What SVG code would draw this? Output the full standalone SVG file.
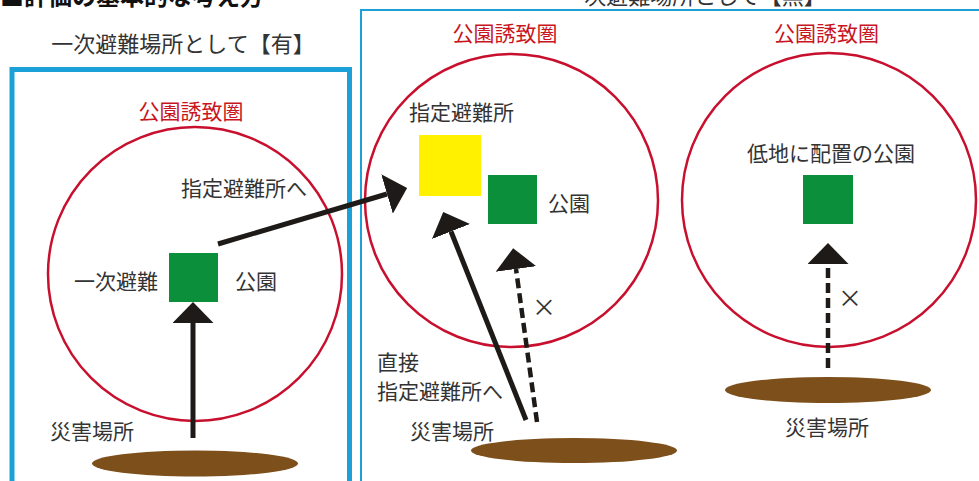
<svg xmlns="http://www.w3.org/2000/svg" width="979" height="481" viewBox="0 0 979 481">
<style>
text{font-family:"Noto Sans CJK JP","Noto Sans",sans-serif;}
.lbl{font-size:21px;fill:#333;}
.cross{font-size:24px;fill:#333;}
.red{font-size:21px;fill:#c9151e;}
.title{font-size:22px;fill:#333;}
.zone{fill:none;stroke:#c8102e;stroke-width:2.5;}
.park{fill:#0b8f3a;}
.shelter{fill:#fff100;}
.ground{fill:#7d4f1a;}
.solid{stroke:#1e1a17;stroke-width:5;fill:none;}
.dash{stroke:#1e1a17;stroke-width:4.5;fill:none;stroke-dasharray:10 5;}
</style>
<defs>
<marker id="head" viewBox="0 0 21 41" refX="0" refY="20.5" markerWidth="21" markerHeight="41" markerUnits="userSpaceOnUse" orient="auto">
<path d="M0,0 L21,20.5 L0,41 Z" fill="#1e1a17"/>
</marker>
</defs>
<rect width="979" height="481" fill="#fff"/>
<text x="0" y="5" style="font-size:24px;font-weight:bold;fill:#111;">■評価の基本的な考え方</text>
<text x="183" y="52" class="title" text-anchor="middle">一次避難場所として【有】</text>
<text x="694" y="4" class="title" text-anchor="middle">一次避難場所として【無】</text>
<rect x="12" y="69.5" width="337.5" height="440" fill="none" stroke="#1ba1d8" stroke-width="5"/>
<rect x="361" y="10" width="700" height="500" fill="none" stroke="#1ba1d8" stroke-width="2"/>
<g id="zone-left">
<circle cx="195" cy="274" r="147" class="zone"/>
<text x="191" y="119" class="red" text-anchor="middle">公園誘致圏</text>
</g>
<g id="park-left">
<rect x="169" y="253" width="49" height="49" class="park"/>
<text x="158" y="289" class="lbl" text-anchor="end">一次避難</text>
<text x="235" y="289" class="lbl">公園</text>
</g>
<text x="181" y="196" class="lbl">指定避難所へ</text>
<g id="disaster-left">
<ellipse cx="195" cy="463.5" rx="103" ry="13" class="ground"/>
<text x="50" y="439" class="lbl">災害場所</text>
</g>
<g id="zone-mid">
<circle cx="511.5" cy="200.5" r="146.5" class="zone"/>
<text x="505" y="41" class="red" text-anchor="middle">公園誘致圏</text>
</g>
<g id="shelter-mid">
<rect x="419" y="135" width="62" height="61" class="shelter"/>
<text x="409" y="120" class="lbl">指定避難所</text>
</g>
<g id="park-mid">
<rect x="488" y="175" width="49" height="49" class="park"/>
<text x="548" y="211" class="lbl">公園</text>
</g>
<text x="377" y="370" class="lbl">直接</text>
<text x="377" y="399" class="lbl">指定避難所へ</text>
<text x="544" y="316" class="cross" text-anchor="middle">×</text>
<g id="disaster-mid">
<ellipse cx="574" cy="450.5" rx="103" ry="12.5" class="ground"/>
<text x="410" y="439" class="lbl">災害場所</text>
</g>
<g id="zone-right">
<circle cx="829" cy="200" r="147" class="zone"/>
<text x="826.5" y="41" class="red" text-anchor="middle">公園誘致圏</text>
</g>
<g id="park-right">
<rect x="803" y="175" width="50" height="49" class="park"/>
<text x="831" y="161" class="lbl" text-anchor="middle">低地に配置の公園</text>
</g>
<text x="850" y="307" class="cross" text-anchor="middle">×</text>
<g id="disaster-right">
<ellipse cx="828" cy="390" rx="103" ry="13" class="ground"/>
<text x="827" y="435" class="lbl" text-anchor="middle">災害場所</text>
</g>
<g id="connectors">
<line x1="193" y1="438" x2="193" y2="323" class="solid" marker-end="url(#head)"/>
<line x1="218" y1="244" x2="387" y2="194" class="solid" marker-end="url(#head)"/>
<line x1="526" y1="420" x2="451" y2="231.5" class="solid" marker-end="url(#head)"/>
<line x1="537" y1="422" x2="516" y2="269" class="dash" marker-end="url(#head)"/>
<line x1="828" y1="368" x2="828" y2="264" class="dash" marker-end="url(#head)"/>
</g>
</svg>
